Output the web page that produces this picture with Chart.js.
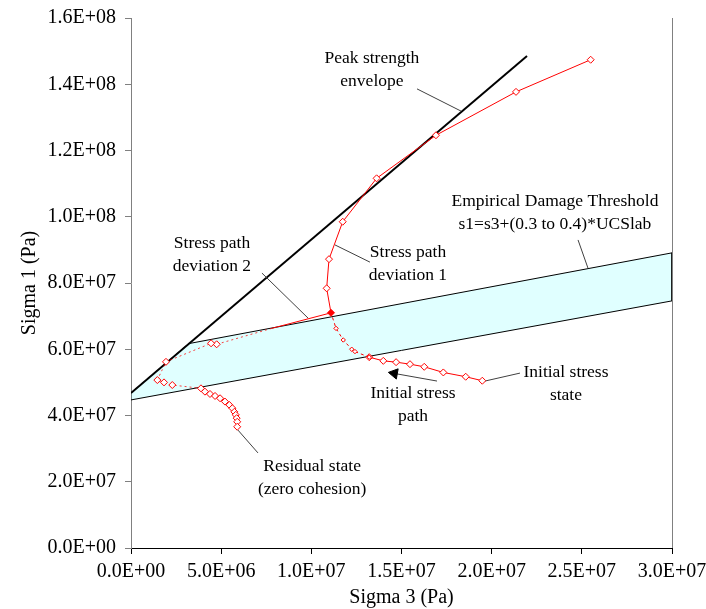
<!DOCTYPE html>
<html><head><meta charset="utf-8">
<script src="https://cdn.jsdelivr.net/npm/chart.js@4"></script>
<style>html,body{margin:0;padding:0;background:#fff}</style>
</head><body>
<canvas id="c" width="706" height="609" style="display:block;width:706px;height:609px"></canvas>
<script>
// ---- axis ranges / ticks ----
const S3_MIN = 0, S3_MAX = 3.0e7, S3_STEP = 5.0e6;
const S1_MIN = 0, S1_MAX = 1.6e8, S1_STEP = 2.0e7;

// ---- peak strength envelope ----
const envelopeS3 = [0, 2.196e7];
const envelopeS1 = [4.68e7, 1.485e8];

// ---- empirical damage threshold band (closed outline) ----
const bandS3 = [0, 3.2e6, 3.0e7, 3.0e7, 0, 0];
const bandS1 = [4.68e7, 6.17e7, 8.91e7, 7.46e7, 4.47e7, 4.68e7];

// ---- stress path ----
const initPathS3 = [1.948e7, 1.856e7, 1.732e7, 1.626e7, 1.547e7, 1.470e7, 1.399e7, 1.321e7];
const initPathS1 = [5.05e7, 5.17e7, 5.30e7, 5.47e7, 5.55e7, 5.61e7, 5.65e7, 5.76e7];

const transS3 = [1.321e7, 1.242e7, 1.224e7, 1.177e7, 1.137e7, 1.109e7];
const transS1 = [5.76e7, 5.93e7, 6.00e7, 6.28e7, 6.63e7, 7.10e7];

const dev1S3 = [1.109e7, 1.085e7, 1.098e7, 1.174e7, 1.362e7, 1.691e7, 2.135e7, 2.549e7];
const dev1S1 = [7.10e7, 7.84e7, 8.72e7, 9.85e7, 1.116e8, 1.246e8, 1.377e8, 1.474e8];

const dev2S3 = [1.109e7, 7.80e6];
const dev2S1 = [7.10e7, 6.63e7];

const dev2DotS3 = [7.80e6, 4.75e6, 4.44e6, 1.94e6, 1.46e6, 1.83e6, 2.29e6, 3.88e6];
const dev2DotS1 = [6.63e7, 6.15e7, 6.18e7, 5.62e7, 5.07e7, 5.00e7, 4.92e7, 4.82e7];
const dev2DotMarks = [0, 1, 1, 1, 1, 1, 1, 0];

const residualS3 = [3.88e6, 4.10e6, 4.38e6, 4.66e6, 4.94e6, 5.21e6, 5.45e6, 5.62e6, 5.73e6, 5.81e6, 5.86e6, 5.89e6, 5.89e6];
const residualS1 = [4.82e7, 4.72e7, 4.65e7, 4.59e7, 4.52e7, 4.42e7, 4.32e7, 4.22e7, 4.11e7, 4.02e7, 3.92e7, 3.81e7, 3.66e7];

// ---- annotation leaders [s3a, s1a, s3b, s1b] ----
const leaders = [
  [1.586e7, 1.386e8, 1.830e7, 1.319e8],   // peak envelope
  [2.479e7, 9.30e7, 2.534e7, 8.45e7],     // damage threshold
  [1.131e7, 9.15e7, 1.325e7, 8.63e7],     // deviation 1
  [7.26e6, 8.30e7, 9.82e6, 6.94e7],       // deviation 2
  [2.157e7, 5.28e7, 1.963e7, 5.04e7],     // initial state
  [5.93e6, 3.56e7, 7.04e6, 2.87e7]        // residual
];
const arrowS3 = [1.697e7, 1.460e7];
const arrowS1 = [5.04e7, 5.27e7];

// ---- annotation texts ----
const labelTexts = [
  ['Peak strength', 'envelope'],
  ['Empirical Damage Threshold', 's1=s3+(0.3 to 0.4)*UCSlab'],
  ['Stress path', 'deviation 1'],
  ['Stress path', 'deviation 2'],
  ['Initial stress', 'state'],
  ['Initial stress', 'path'],
  ['Residual state', '(zero cohesion)']
];
const labelS3 = [1.336e7, 2.351e7, 1.536e7, 4.49e6, 2.412e7, 1.564e7, 1.004e7];
const labelS1 = [1.479e8, 1.0475e8, 8.936e7, 9.21e7, 5.31e7, 4.68e7, 2.475e7];

const FONT = '"Liberation Serif", "Times New Roman", serif';
const RED = '#ff0000';

function pts(xs, ys) { return xs.map((v, i) => ({x: v, y: ys[i]})); }
function fmt(v) {
  const s = Number(v).toExponential(1);
  const parts = s.split('e');
  const n = parseInt(parts[1], 10);
  return parts[0] + 'E' + (n < 0 ? '-' : '+') + String(Math.abs(n)).padStart(2, '0');
}

const datasets = [];
// band
datasets.push({data: pts(bandS3, bandS1), showLine: true, fill: 'shape',
  backgroundColor: '#e0ffff', borderColor: '#000', borderWidth: 1, pointRadius: 0, order: 20, tension: 0});
// envelope
datasets.push({data: pts(envelopeS3, envelopeS1), showLine: true, borderColor: '#000', borderWidth: 2,
  pointRadius: 0, order: 10});
// leaders
leaders.forEach(l => datasets.push({data: [{x: l[0], y: l[1]}, {x: l[2], y: l[3]}], showLine: true,
  borderColor: '#404040', borderWidth: 1, pointRadius: 0, order: 8}));
datasets.push({data: pts(arrowS3, arrowS1), showLine: true, borderColor: '#404040', borderWidth: 1,
  pointRadius: [0, 6], pointStyle: 'triangle', rotation: -80, pointBackgroundColor: '#000',
  pointBorderColor: '#000', pointBorderWidth: 1, order: 8});
// stress path
const diamond = {pointStyle: 'rectRot', pointBorderColor: RED, pointBackgroundColor: '#fff', pointBorderWidth: 1};
datasets.push(Object.assign({data: pts(dev2DotS3, dev2DotS1), showLine: true, borderColor: 'rgba(255,0,0,0.75)',
  borderWidth: 1, borderDash: [2, 3], pointRadius: dev2DotMarks.map(m => m ? 3.5 : 0), order: 3}, diamond));
datasets.push(Object.assign({data: pts(dev2S3, dev2S1), showLine: true, borderColor: RED, borderWidth: 1,
  pointRadius: 0, order: 3}, diamond));
datasets.push(Object.assign({data: pts(transS3, transS1), showLine: true, borderColor: RED, borderWidth: 1,
  borderDash: [3, 3], pointRadius: 2.2, order: 2}, diamond));
datasets.push(Object.assign({data: pts(initPathS3, initPathS1), showLine: true, borderColor: RED, borderWidth: 1,
  pointRadius: 3.5, order: 2}, diamond));
datasets.push(Object.assign({data: pts(dev1S3, dev1S1), showLine: true, borderColor: RED, borderWidth: 1,
  pointRadius: 3.5, order: 1}, diamond, {pointBackgroundColor: dev1S3.map((v, i) => i === 0 ? RED : '#fff')}));
datasets.push(Object.assign({data: pts(residualS3, residualS1), showLine: true, borderColor: RED, borderWidth: 1,
  pointRadius: 3.5, order: 1}, diamond));

const annot = {
  id: 'annot',
  afterDatasetsDraw(chart) {
    const {ctx, chartArea} = chart;
    const x = chart.scales.x, y = chart.scales.y;
    ctx.save();
    ctx.strokeStyle = '#808080'; ctx.lineWidth = 1;
    ctx.beginPath();
    ctx.moveTo(Math.round(chartArea.right) + 0.5, chartArea.top);
    ctx.lineTo(Math.round(chartArea.right) + 0.5, chartArea.bottom);
    ctx.stroke();
    ctx.fillStyle = '#000';
    ctx.font = '17.5px ' + FONT;
    ctx.textAlign = 'center';
    ctx.textBaseline = 'middle';
    labelTexts.forEach((lines, i) => {
      const px = x.getPixelForValue(labelS3[i]);
      const py = y.getPixelForValue(labelS1[i]);
      lines.forEach((t, k) => ctx.fillText(t, px, py + k * 23));
    });
    ctx.restore();
  }
};

new Chart(document.getElementById('c'), {
  type: 'scatter',
  data: {datasets},
  plugins: [annot],
  options: {
    responsive: false, animation: false, devicePixelRatio: 1,
    layout: {padding: {top: 18, right: 34, left: 0, bottom: 0}},
    plugins: {legend: {display: false}, tooltip: {enabled: false}},
    elements: {line: {tension: 0}},
    scales: {
      x: {
        type: 'linear', min: S3_MIN, max: S3_MAX,
        ticks: {stepSize: S3_STEP, callback: fmt, font: {family: FONT, size: 20}, color: '#000',
          padding: 6, maxRotation: 0, autoSkip: false},
        grid: {display: true, drawOnChartArea: false, drawTicks: true, tickLength: 6, color: '#000'},
        border: {display: true, color: '#000', width: 1},
        title: {display: true, text: 'Sigma 3 (Pa)', font: {family: FONT, size: 20, lineHeight: 1}, color: '#000',
          padding: {top: 0, bottom: 1}},
        afterFit(s) { s.height = 61; s.paddingLeft = 0; s.paddingRight = 0; }
      },
      y: {
        type: 'linear', min: S1_MIN, max: S1_MAX,
        ticks: {stepSize: S1_STEP, callback: fmt, font: {family: FONT, size: 20}, color: '#000', padding: 9},
        grid: {display: true, drawOnChartArea: false, drawTicks: true, tickLength: 6, color: '#808080'},
        border: {display: true, color: '#808080', width: 1},
        title: {display: true, text: 'Sigma 1 (Pa)', font: {family: FONT, size: 20, lineHeight: 1}, color: '#000',
          padding: {top: 20, bottom: 0}},
        afterFit(s) { s.width = 131; s.paddingTop = 0; s.paddingBottom = 0; }
      }
    }
  }
});
</script>
</body></html>
